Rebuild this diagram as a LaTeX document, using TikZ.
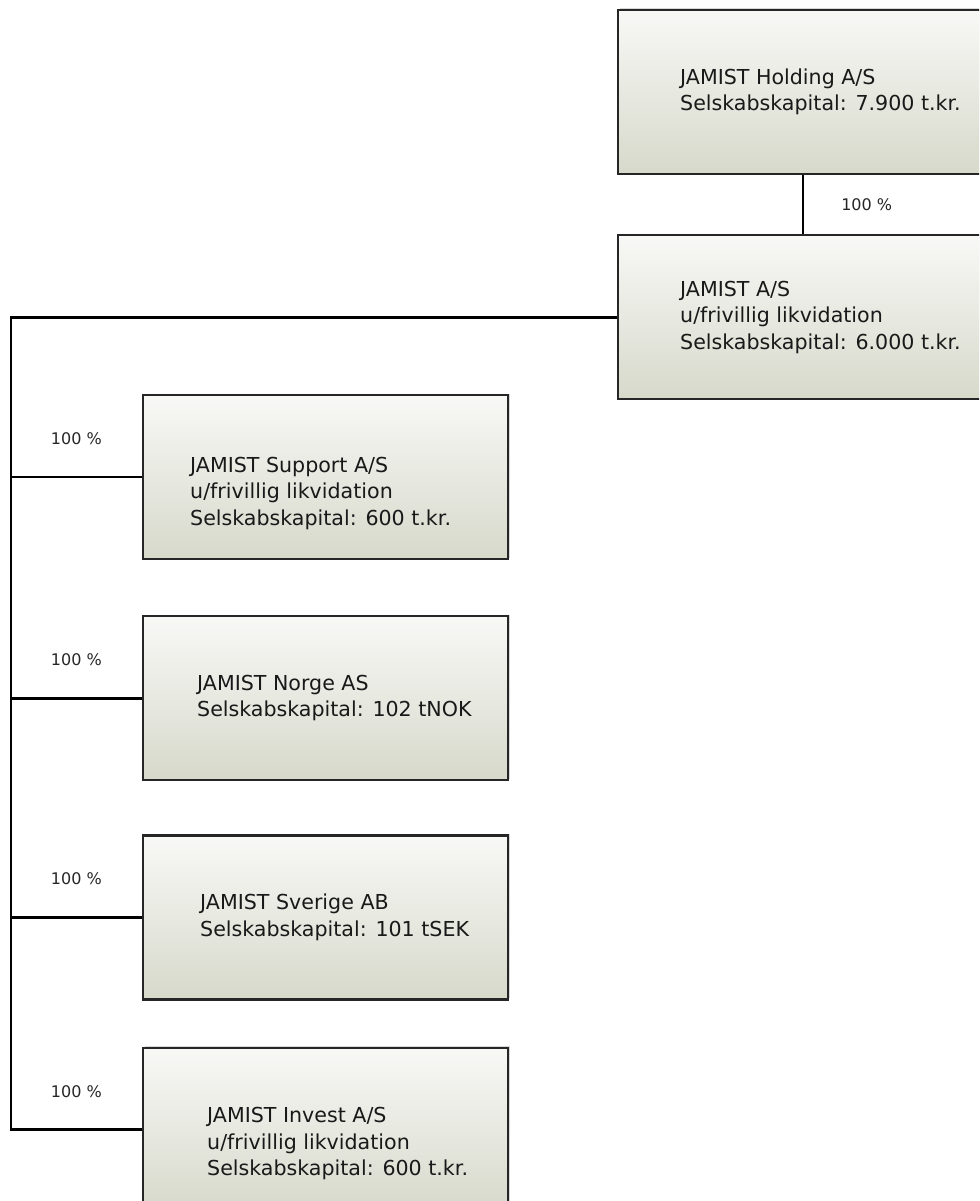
\documentclass[tikz,border=0pt]{standalone}
\usepackage{fontspec}
\setmainfont{DejaVu Sans}
\usetikzlibrary{positioning, shadows}

\definecolor{boxtop}{HTML}{F8F8F6}
\definecolor{boxbottom}{HTML}{D7D9CB}

\begin{document}
\begin{tikzpicture}[x=1pt,y=-1pt,line width=2.6pt]
			
			\tikzstyle{every node}=[font=\fontsize{20.6}{26.5}\selectfont]
			
			\tikzstyle{company}=[rectangle,draw=black!85,line width=2.2pt,top color=boxtop,bottom color=boxbottom,minimum width=365pt,minimum height=164pt,drop shadow={opacity=0.3,shadow xshift=1.5pt,shadow yshift=1.5pt}]
			\tikzstyle{info}=[align=left,inner sep=0pt,text=black!90]
			\tikzstyle{pct}=[font=\fontsize{16}{18}\selectfont,inner sep=0pt,text=black!85]
			
			\useasboundingbox (0,0) rectangle (979,1201);
			\fill[white] (0,0) rectangle (979,1201);
			\clip (0,0) rectangle (979,1201);
			
			\node[company,minimum width=370pt] (Hold) at (803,92) {};
			\node[company,minimum width=370pt] (Jam) [below=59pt of Hold] {};
			\node[company] (Sup) at (325.5,477) {};
			\node[company] (Nor) [below=55pt of Sup] {};
			\node[company] (Sve) [below=53pt of Nor] {};
			\node[company] (Inv) [below=46pt of Sve] {};
			
			% texts in the boxes
			\node[info] (HoldT) [right=62pt of Hold.west] {JAMIST Holding A/S\\Selskabskapital: 7.900 t.kr.};
			\node[info] (JamT) [right=62pt of Jam.west] {JAMIST A/S\\u/frivillig likvidation\\Selskabskapital: 6.000 t.kr.};
			\node[info] (SupT) [right=47pt of Sup.west, yshift=-16pt] {JAMIST Support A/S\\u/frivillig likvidation\\Selskabskapital: 600 t.kr.};
			\node[info] (NorT) [right=54pt of Nor.west] {JAMIST Norge AS\\Selskabskapital: 102 tNOK};
			\node[info] (SveT) [right=57pt of Sve.west] {JAMIST Sverige AB\\Selskabskapital: 101 tSEK};
			\node[info] (InvT) [right=64pt of Inv.west, yshift=-14pt] {JAMIST Invest A/S\\u/frivillig likvidation\\Selskabskapital: 600 t.kr.};
			
			\coordinate[left=606pt of Jam.west] (T);
			
			\draw (Hold) -- node[pct, right=37pt] {100 \%} (Jam);
			\draw (Jam.west) -- (T) |- (Inv.west);
			\foreach \c in {Sup,Nor,Sve,Inv}
				\draw (T |- \c.west) -- node[pct, above=31pt] {100 \%} (\c.west);
			
		\end{tikzpicture}
\end{document}
